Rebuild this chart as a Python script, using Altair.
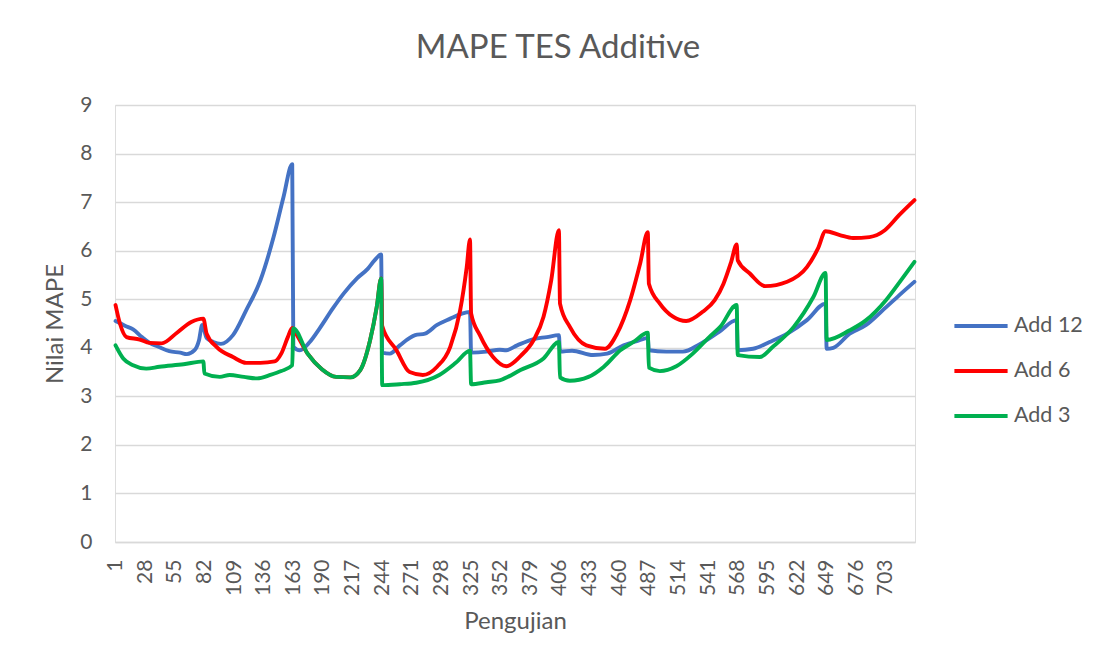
import altair as alt
import pandas as pd

# ---- data ----
tick_labels = [1, 28, 55, 82, 109, 136, 163, 190, 217, 244, 271, 298, 325, 352,
               379, 406, 433, 460, 487, 514, 541, 568, 595, 622, 649, 676, 703]

add12_x = [1, 10, 17, 25, 32, 40, 50, 60, 66, 73, 77, 80, 84, 90, 97, 108, 120, 133,
           145, 154, 162, 163, 169, 178, 187, 199, 209, 221, 231, 237, 243, 244, 251,
           260, 274, 283, 294, 306, 316, 324, 325, 339, 351, 357, 367, 382, 394, 405,
           406, 417, 436, 449, 464, 478, 486, 487, 503, 518, 533, 551, 567, 568, 582,
           597, 613, 631, 648, 649, 655, 670, 685, 700, 715, 729]
add12_y = [4.55, 4.45, 4.38, 4.22, 4.10, 4.02, 3.93, 3.90, 3.87, 3.95, 4.15, 4.47, 4.20,
           4.12, 4.08, 4.26, 4.77, 5.39, 6.28, 7.10, 7.78, 4.02, 3.95, 4.12, 4.40, 4.81,
           5.12, 5.43, 5.63, 5.80, 5.92, 3.90, 3.88, 4.05, 4.26, 4.29, 4.47, 4.60, 4.70,
           4.74, 3.90, 3.92, 3.96, 3.95, 4.05, 4.18, 4.22, 4.26, 3.92, 3.94, 3.85, 3.88,
           4.05, 4.15, 4.20, 3.95, 3.92, 3.92, 4.07, 4.33, 4.57, 3.95, 3.98, 4.12, 4.29,
           4.57, 4.91, 3.98, 4.00, 4.29, 4.47, 4.77, 5.08, 5.36]

add6_x = [1, 5, 11, 23, 32, 43, 57, 70, 81, 84, 93, 108, 120, 133, 146, 152, 158, 162,
          163, 176, 189, 202, 215, 224, 233, 239, 243, 244, 257, 269, 281, 294, 306, 315,
          321, 324, 325, 333, 345, 357, 370, 382, 391, 398, 405, 406, 415, 430, 447, 458,
          470, 479, 486, 487, 497, 509, 521, 536, 547, 555, 562, 567, 568, 579, 593, 613,
          631, 641, 648, 661, 673, 688, 702, 715, 729]
add6_y = [4.88, 4.50, 4.22, 4.17, 4.10, 4.09, 4.31, 4.53, 4.60, 4.29, 4.02, 3.81, 3.69,
          3.69, 3.72, 3.88, 4.22, 4.41, 4.38, 3.88, 3.56, 3.40, 3.39, 3.54, 4.16, 4.84,
          5.43, 4.45, 3.95, 3.50, 3.44, 3.61, 4.02, 4.77, 5.66, 6.23, 4.71, 4.26, 3.81,
          3.62, 3.83, 4.16, 4.64, 5.39, 6.42, 4.91, 4.43, 4.05, 3.98, 4.29, 4.98, 5.73,
          6.38, 5.32, 4.91, 4.64, 4.55, 4.74, 4.98, 5.32, 5.77, 6.13, 5.80, 5.53, 5.27,
          5.36, 5.66, 6.04, 6.40, 6.32, 6.26, 6.28, 6.42, 6.73, 7.04]

add3_x = [1, 8, 17, 29, 41, 63, 81, 82, 96, 105, 118, 130, 142, 152, 162, 163, 176, 189,
          202, 215, 224, 233, 239, 243, 244, 260, 275, 296, 311, 324, 325, 339, 351, 370,
          391, 405, 406, 415, 432, 446, 461, 473, 486, 487, 497, 512, 527, 542, 552, 567,
          568, 588, 600, 619, 637, 648, 649, 670, 685, 703, 718, 729]
add3_y = [4.05, 3.78, 3.64, 3.57, 3.61, 3.66, 3.72, 3.47, 3.40, 3.44, 3.40, 3.37, 3.44,
          3.52, 3.64, 4.40, 3.88, 3.56, 3.40, 3.39, 3.54, 4.16, 4.84, 5.43, 3.23, 3.25,
          3.28, 3.44, 3.69, 3.94, 3.25, 3.29, 3.33, 3.54, 3.78, 4.12, 3.39, 3.32, 3.40,
          3.61, 3.95, 4.12, 4.31, 3.59, 3.52, 3.62, 3.88, 4.22, 4.43, 4.88, 3.85, 3.81,
          4.02, 4.43, 5.05, 5.54, 4.16, 4.36, 4.57, 4.98, 5.43, 5.77]

series_names = ["Add 12", "Add 6", "Add 3"]
series_colors = ["#4472C4", "#FF0000", "#00B050"]

FONT = "Lato"
GREY = "#595959"

frames = [
    pd.DataFrame({"idx": add12_x, "mape": add12_y, "series": "Add 12"}),
    pd.DataFrame({"idx": add6_x, "mape": add6_y, "series": "Add 6"}),
    pd.DataFrame({"idx": add3_x, "mape": add3_y, "series": "Add 3"}),
]

color = alt.Color(
    "series:N",
    scale=alt.Scale(domain=series_names, range=series_colors),
    sort=series_names,
    legend=alt.Legend(
        title=None,
        orient="none",
        legendX=844,
        legendY=199,
        symbolType="M-1.33,0H1.33",
        symbolSize=1600,
        symbolStrokeWidth=4,
        labelFont=FONT,
        labelFontSize=21.5,
        labelColor=GREY,
        labelOffset=11,
        rowPadding=12,
        padding=0,
    ),
)

x = alt.X(
    "idx:Q",
    title="Pengujian",
    scale=alt.Scale(domain=[0.5, 729.5], nice=False, zero=False),
    axis=alt.Axis(
        values=tick_labels,
        labelAngle=-90,
        labelFont=FONT,
        labelFontSize=21,
        labelColor=GREY,
        labelPadding=17,
        labelOverlap=False,
        ticks=False,
        grid=False,
        domainColor="#D9D9D9",
        domainWidth=1.3,
        titleFont=FONT,
        titleFontSize=24,
        titleFontWeight="normal",
        titleColor=GREY,
        titlePadding=14,
    ),
)

y = alt.Y(
    "mape:Q",
    title="Nilai MAPE",
    scale=alt.Scale(domain=[0, 9], nice=False),
    axis=alt.Axis(
        values=[0, 1, 2, 3, 4, 5, 6, 7, 8, 9],
        labelFont=FONT,
        labelFontSize=21,
        labelColor=GREY,
        labelPadding=23,
        ticks=False,
        domain=False,
        gridColor="#D9D9D9",
        gridWidth=1.3,
        titleFont=FONT,
        titleFontSize=24,
        titleFontWeight="normal",
        titleColor=GREY,
        titlePadding=12,
    ),
)

layers = [
    alt.Chart(df).mark_line(
        strokeWidth=3.9, strokeJoin="round", strokeCap="round", interpolate="monotone"
    ).encode(x=x, y=y, color=color)
    for df in frames
]

chart = (
    alt.layer(*layers)
    .properties(
        width=800,
        height=437,
        title=alt.TitleParams(
            "MAPE TES Additive",
            font=FONT,
            fontSize=33,
            fontWeight="normal",
            color=GREY,
            anchor="middle",
            dx=43,
            offset=29,
        ),
        autosize=alt.AutoSizeParams(type="none"),
        padding={"left": 107, "top": 97, "right": 184, "bottom": 114},
    )
    .configure_view(stroke=None)
    .configure(background="white")
)

chart.save("out.html", embed_options={"renderer": "svg", "actions": False})
